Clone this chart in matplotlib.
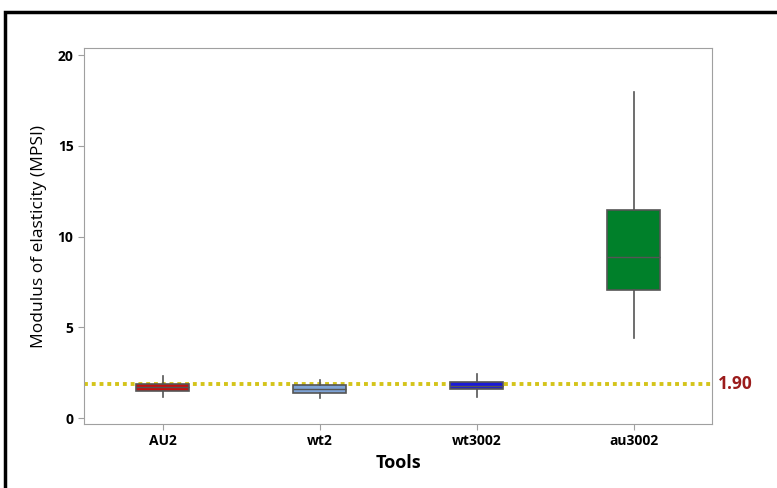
import matplotlib.pyplot as plt
from matplotlib.patches import Rectangle

# box summaries per tool
tools = ['AU2', 'wt2', 'wt3002', 'au3002']
whisker_low = [1.16, 1.10, 1.17, 4.39]
q1 = [1.51, 1.36, 1.58, 7.05]
median = [1.70, 1.58, 1.78, 8.85]
q3 = [1.87, 1.82, 2.00, 11.46]
whisker_high = [2.31, 2.09, 2.42, 17.98]
box_colors = ['#c41010', '#7ea3d6', '#1a1ad8', '#00802a']
ref_value = 1.90

plt.rcParams['font.family'] = ['Open Sans', 'DejaVu Sans']

fig = plt.figure(figsize=(7.77, 4.88), dpi=100)
ax = fig.add_axes([84 / 777, 1 - 424 / 488, 628 / 777, 376 / 488])

stats = []
for i in range(len(tools)):
    stats.append({'label': tools[i], 'whislo': whisker_low[i], 'q1': q1[i],
                  'med': median[i], 'q3': q3[i], 'whishi': whisker_high[i]})

bp = ax.bxp(stats, positions=range(1, 5), widths=0.34, patch_artist=True,
            showfliers=False, showcaps=False,
            boxprops=dict(edgecolor='#555555', linewidth=1.2),
            medianprops=dict(color='#555555', linewidth=1.0),
            whiskerprops=dict(color='#555555', linewidth=1.2))
for patch, c in zip(bp['boxes'], box_colors):
    patch.set_facecolor(c)

# reference line
ax.axhline(ref_value, color='#d4c41a', linestyle=(0, (1, 1)), linewidth=2.8, zorder=0.5)
ax.text(1.01, ref_value, f'{ref_value:.2f}', transform=ax.get_yaxis_transform(),
        color='#9b1c1c', fontsize=12.5, fontweight='bold', va='center', ha='left',
        clip_on=False)

ax.set_xlim(0.5, 4.5)
ax.set_ylim(-0.33, 20.39)
ax.set_yticks([0, 5, 10, 15, 20])
ax.set_xticklabels(tools)
for s in ax.spines.values():
    s.set_color('#a0a0a0')
ax.tick_params(colors='#a0a0a0', labelcolor='black', labelsize=10, length=4)
for lab in ax.get_xticklabels() + ax.get_yticklabels():
    lab.set_fontweight('bold')

ax.set_ylabel('Modulus of elasticity (MPSI)', fontsize=12.5, labelpad=8)
ax.set_xlabel('Tools', fontsize=13, fontweight='bold', labelpad=4)

# black frame around the figure
fig.patches.append(Rectangle((5 / 777, -0.1), 1.2, 1 - 12 / 488 + 0.1, transform=fig.transFigure,
                             fill=False, edgecolor='black', linewidth=2.5))

fig.savefig('out.png', dpi=100)
